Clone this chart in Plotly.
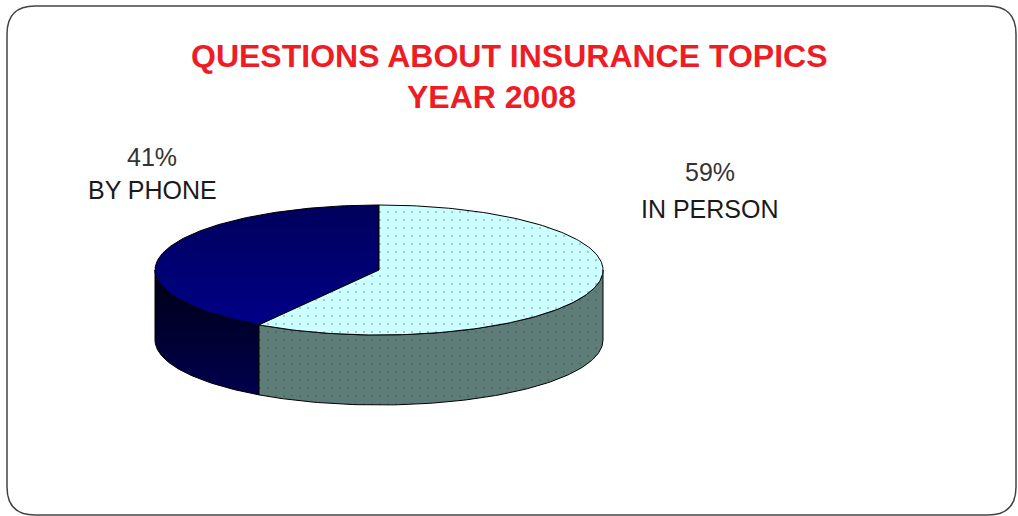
import numpy as np
import plotly.graph_objects as go

# ---- data ----
categories = ["BY PHONE", "IN PERSON"]
values = [41, 59]
pct_labels = [f"{v}%" for v in values]
title_lines = ["QUESTIONS ABOUT INSURANCE TOPICS", "YEAR 2008"]

# ---- geometry / style ----
W, H = 1018, 516
CX, CY, RX, RY, DEPTH = 379, 270, 224, 65, 70
START = 90.0  # 12 o'clock, counter-clockwise

top_styles = [
    dict(fillgradient=dict(type="vertical", colorscale=[[0, "#000088"], [1, "#00005c"]])),
    dict(fillpattern=dict(shape=".", bgcolor="#CCFFFF", fgcolor="#6f7f80", size=8, solidity=0.06)),
]
side_styles = [
    dict(fillgradient=dict(type="vertical", colorscale=[[0, "#00004e"], [1, "#000014"]])),
    dict(fillpattern=dict(shape=".", bgcolor="#5E7D78", fgcolor="#3f4f4c", size=8, solidity=0.06)),
]
label_pos = [(152, 157, 190), (710, 172, 209)]


def ell(theta_deg, dy=0.0):
    t = np.radians(theta_deg)
    return CX + RX * np.cos(t), CY - RY * np.sin(t) + dy


total = float(sum(values))
bounds = [START]
for v in values:
    bounds.append(bounds[-1] + 360.0 * v / total)

fig = go.Figure()

# side walls (front half only: 180..360 deg, also 540..720 for wrap)
for i in range(len(values)):
    a, b = bounds[i], bounds[i + 1]
    for lo, hi in [(180, 360), (540, 720)]:
        s, e = max(a, lo), min(b, hi)
        if e <= s:
            continue
        th = np.linspace(s, e, 120)
        xt, yt = ell(th)
        xb, yb = ell(th[::-1], DEPTH)
        xs = np.concatenate([xt, xb, xt[:1]])
        ys = np.concatenate([yt, yb, yt[:1]])
        fig.add_trace(go.Scatter(x=xs, y=ys, mode="lines", fill="toself",
                                 line=dict(color="#000000", width=1),
                                 hoverinfo="skip", **side_styles[i]))

# top faces
for i in range(len(values)):
    a, b = bounds[i], bounds[i + 1]
    th = np.linspace(a, b, 200)
    xa, ya = ell(th)
    xs = np.concatenate([[CX], xa, [CX]])
    ys = np.concatenate([[CY], ya, [CY]])
    fig.add_trace(go.Scatter(x=xs, y=ys, mode="lines", fill="toself",
                             line=dict(color="#000000", width=1),
                             name=categories[i], hoverinfo="name", **top_styles[i]))

annotations = []
annotations.append(dict(x=509, y=56, text="<b>" + title_lines[0] + "</b>", showarrow=False,
                        font=dict(family="Liberation Sans, Arial", size=32, color="#EE1C25"),
                        xanchor="center", yanchor="middle"))
annotations.append(dict(x=491, y=97, text="<b>" + title_lines[1] + "</b>", showarrow=False,
                        font=dict(family="Liberation Sans, Arial", size=32, color="#EE1C25"),
                        xanchor="center", yanchor="middle"))
for i in range(len(values)):
    lx, y1, y2 = label_pos[i]
    annotations.append(dict(x=lx, y=y1, text=pct_labels[i], showarrow=False,
                            font=dict(family="Liberation Sans, Arial", size=25, color="#333333"),
                            xanchor="center", yanchor="middle"))
    annotations.append(dict(x=lx, y=y2, text=categories[i], showarrow=False,
                            font=dict(family="Liberation Sans, Arial", size=25, color="#1a1a1a"),
                            xanchor="center", yanchor="middle"))

# rounded border
x0, y0, x1, y1, r = 7, 6, 1016, 515, 28
border = (f"M {x0+r},{y0} L {x1-r},{y0} Q {x1},{y0} {x1},{y0+r} L {x1},{y1-r} "
          f"Q {x1},{y1} {x1-r},{y1} L {x0+r},{y1} Q {x0},{y1} {x0},{y1-r} "
          f"L {x0},{y0+r} Q {x0},{y0} {x0+r},{y0} Z")

fig.update_layout(
    width=W, height=H,
    margin=dict(l=0, r=0, t=0, b=0),
    paper_bgcolor="white", plot_bgcolor="white",
    showlegend=False,
    xaxis=dict(range=[0, W], visible=False, fixedrange=True),
    yaxis=dict(range=[H, 0], visible=False, fixedrange=True),
    annotations=annotations,
    shapes=[dict(type="path", path=border, xref="x", yref="y",
                 line=dict(color="#444444", width=1.5), layer="below")],
)

fig.write_html("out.html")
